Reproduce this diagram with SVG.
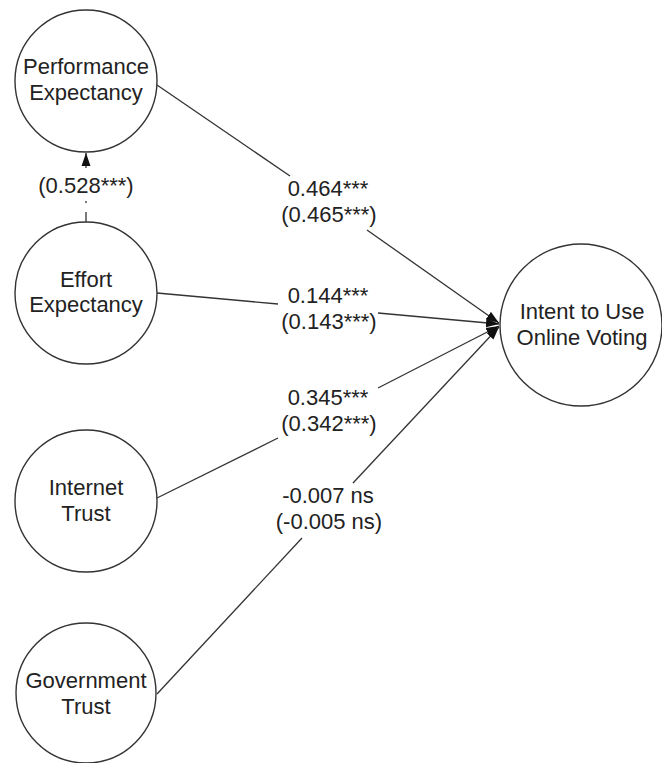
<svg xmlns="http://www.w3.org/2000/svg" width="662" height="763" viewBox="0 0 662 763">
<defs>
<marker id="arr" markerUnits="userSpaceOnUse" markerWidth="14" markerHeight="10" refX="13" refY="5" orient="auto">
<path d="M0,0.5 L13,5 L0,9.5 z" fill="#111"/>
</marker>
<style>
.node{fill:#fff;stroke:#333;stroke-width:1.4}
.t{font-family:"Liberation Sans",Arial,sans-serif;font-size:22px;fill:#222;text-anchor:middle}
.c{stroke:#333;stroke-width:1.3;fill:none}
</style>
</defs>
<rect width="662" height="763" fill="#fff"/>
<g id="connectors">
<line class="c" x1="157" y1="85" x2="290" y2="176"/>
<line class="c" x1="367" y1="230" x2="499" y2="323" marker-end="url(#arr)"/>
<line class="c" x1="157" y1="293" x2="278" y2="304"/>
<line class="c" x1="378" y1="313" x2="499" y2="324" marker-end="url(#arr)"/>
<line class="c" x1="157" y1="498" x2="278" y2="438"/>
<line class="c" x1="378" y1="388" x2="499" y2="326" marker-end="url(#arr)"/>
<line class="c" x1="157" y1="694" x2="302" y2="538"/>
<line class="c" x1="353" y1="483" x2="499" y2="327" marker-end="url(#arr)"/>
<line class="c" x1="86" y1="222" x2="86" y2="190" stroke-dasharray="10 9 2 100"/>
<line class="c" x1="86" y1="168" x2="86" y2="153" marker-end="url(#arr)"/>
<text class="t" x="86" y="193">(0.528***)</text>
<text class="t" x="328" y="196">0.464***</text>
<text class="t" x="329" y="222">(0.465***)</text>
<text class="t" x="328" y="303">0.144***</text>
<text class="t" x="329" y="329">(0.143***)</text>
<text class="t" x="328" y="405">0.345***</text>
<text class="t" x="329" y="431">(0.342***)</text>
<text class="t" x="328" y="503">-0.007 ns</text>
<text class="t" x="329" y="529">(-0.005 ns)</text>
</g>
<g id="performance-expectancy">
<circle class="node" cx="86" cy="81" r="71"/>
<text class="t" x="86" y="74">Performance</text>
<text class="t" x="86" y="100">Expectancy</text>
</g>
<g id="effort-expectancy">
<circle class="node" cx="86" cy="293" r="71"/>
<text class="t" x="86" y="287">Effort</text>
<text class="t" x="86" y="312">Expectancy</text>
</g>
<g id="internet-trust">
<circle class="node" cx="86" cy="501" r="71"/>
<text class="t" x="86" y="495">Internet</text>
<text class="t" x="86" y="521">Trust</text>
</g>
<g id="government-trust">
<circle class="node" cx="86" cy="693" r="70"/>
<text class="t" x="86" y="688">Government</text>
<text class="t" x="86" y="714">Trust</text>
</g>
<g id="intent">
<circle class="node" cx="581" cy="325" r="81"/>
<text class="t" x="582" y="319">Intent to Use</text>
<text class="t" x="582" y="345">Online Voting</text>
</g>
</svg>
